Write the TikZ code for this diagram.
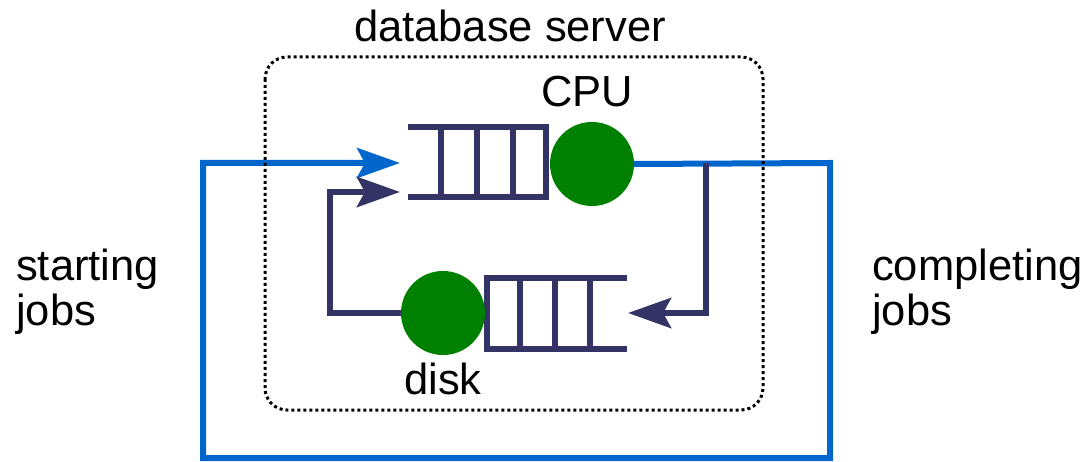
\documentclass[tikz,border=0pt]{standalone}
\usepackage{fontspec}
\setmainfont{Liberation Sans}
\usetikzlibrary{arrows.meta}
\definecolor{jobblue}{HTML}{0066CC}
\definecolor{qnavy}{HTML}{333366}
\definecolor{srvgreen}{HTML}{008000}

\begin{document}
\begin{tikzpicture}[x=1pt,y=-1pt,
    snode/.style={fill=srvgreen,circle,minimum size=84pt,inner sep=0pt},
    lbl/.style={font=\fontsize{43.5}{45}\selectfont,inner sep=0pt},
    qline/.style={draw=qnavy,line width=6.5pt},
    jobline/.style={draw=jobblue,line width=6pt},
    tipbig/.style={-{Stealth[length=43pt,width=30pt,inset=8pt]}}]
    \useasboundingbox (0,0) rectangle (1090,462);

    % queues
    \draw[qline] (408,127) -- (549,127);
    \draw[qline] (408,197) -- (549,197);
    \draw[qline] (441,127) -- (441,197);
    \draw[qline] (477,127) -- (477,197);
    \draw[qline] (513,127) -- (513,197);
    \draw[qline] (546,124) -- (546,200);

    \draw[qline] (487,278) -- (627,278);
    \draw[qline] (487,349) -- (627,349);
    \draw[qline] (487,275) -- (487,352);
    \draw[qline] (520,278) -- (520,349);
    \draw[qline] (555,278) -- (555,349);
    \draw[qline] (590,278) -- (590,349);

    \node[snode] (cpu) at (592,164) {};
    \node[snode] (disk) at (443,313) {};
    \node[lbl,anchor=base] (cpul) at (587,107) {CPU};
    \node[lbl,anchor=base] (diskl) at (443,394) {disk};

    \coordinate (cpuin) at (400,163);
    \coordinate (cpuback) at (400,192);
    \coordinate (diskin) at (628,313);
    \coordinate (split) at (706,163);

    \draw[jobline,tipbig] (cpu.east) -- (830,163) |- (203,458) |- (cpuin);
    \draw[qline,tipbig] (split) |- (diskin);
    \draw[qline,tipbig] (disk.west) -- (330,313) |- (cpuback);

    % server box
    \draw[line width=3pt,dash pattern=on 3pt off 3pt,rounded corners=22pt] (265,57) rectangle (763,410);
    \node[lbl,anchor=base] (srv) at (510,42) {database server};

    \node[lbl,anchor=base west,align=left] (start) at (16,326) {starting\\jobs};
    \node[lbl,anchor=base west,align=left] (done) at (872,326) {completing\\jobs};
\end{tikzpicture}
\end{document}
